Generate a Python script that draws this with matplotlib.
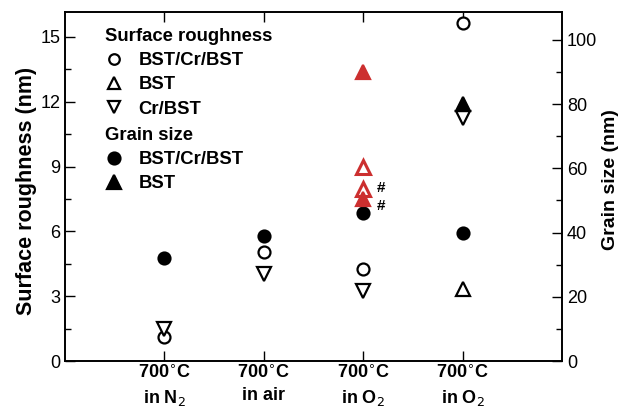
import matplotlib
matplotlib.use("Agg")
import matplotlib.pyplot as plt
from matplotlib.lines import Line2D
from matplotlib.ticker import MultipleLocator

plt.rcParams['font.family'] = ['Liberation Sans', 'DejaVu Sans']

categories = ["700$^{\\circ}$C\nin N$_2$", "700$^{\\circ}$C\nin air",
              "700$^{\\circ}$C\nin O$_2$", "700$^{\\circ}$C\nin O$_2$"]
xpos = [1, 2, 3, 4]

# Surface roughness (nm), left axis
rough_bcb = [1.1, 5.05, 4.26, 15.65]          # BST/Cr/BST, open circle
rough_crbst = [1.5, 4.03, 3.22, 11.25]        # Cr/BST, open down triangle
rough_bst_x = [4]                             # BST, open up triangle (black)
rough_bst = [3.33]
rough_bst_red_x = [3, 3]                      # BST, open up triangle (red)
rough_bst_red = [9.0, 7.95]

# Grain size (nm), right axis
grain_bcb = [32, 39, 46, 40]                  # BST/Cr/BST, filled circle
grain_bst_x = [4]                             # BST, filled up triangle (black)
grain_bst = [80]
grain_bst_red_x = [3, 3]                      # BST, filled up triangle (red)
grain_bst_red = [90, 50.5]

RED = '#cc2f2f'
ms_c = 8.6
ms_t = 10
mew = 1.6
YL, YR = 16.15, 108.7

fig = plt.figure(figsize=(6.22, 4.16), dpi=100)
ax = fig.add_axes([65/622, 55/416, 497/622, 349/416])
ax2 = ax.twinx()

ax.plot(xpos, rough_bcb, 'o', ms=ms_c, mfc='white', mec='black', mew=mew, ls='none')
ax.plot(xpos, rough_crbst, 'v', ms=ms_t, mfc='white', mec='black', mew=mew, ls='none')
ax.plot(rough_bst_x, rough_bst, '^', ms=ms_t, mfc='white', mec='black', mew=mew, ls='none')

ax2.plot(xpos, grain_bcb, 'o', ms=ms_c, mfc='black', mec='black', mew=mew, ls='none')
ax2.plot(grain_bst_x, grain_bst, '^', ms=ms_t, mfc='black', mec='black', mew=mew, ls='none')
ax2.plot(grain_bst_red_x, grain_bst_red, '^', ms=ms_t, mfc=RED, mec=RED, mew=mew, ls='none', zorder=3)
ax2.plot(rough_bst_red_x, [v * YR / YL for v in rough_bst_red], '^', ms=ms_t,
         mfc='white', mec=RED, mew=2.2, ls='none', zorder=2)

ax2.annotate('#', (rough_bst_red_x[1], rough_bst_red[1] * YR / YL), xytext=(10, 1),
             textcoords='offset points', fontsize=11, fontweight='bold', va='center')
ax2.annotate('#', (grain_bst_red_x[1], grain_bst_red[1]), xytext=(10, -5),
             textcoords='offset points', fontsize=11, fontweight='bold', va='center')

ax.set_xlim(0, 5)
ax.set_ylim(0, YL)
ax2.set_ylim(0, YR)

ax.set_xticks(xpos)
ax.set_xticklabels(categories, fontsize=13, fontweight='bold', linespacing=1.38)
ax.yaxis.set_major_locator(MultipleLocator(3))
ax.yaxis.set_minor_locator(MultipleLocator(1.5))
ax2.yaxis.set_major_locator(MultipleLocator(20))
ax2.yaxis.set_minor_locator(MultipleLocator(10))

ax.tick_params(axis='both', which='both', direction='in', top=True, labelsize=13)
ax.tick_params(axis='x', which='minor', top=False, bottom=False)
ax.tick_params(axis='both', which='major', length=7, width=1)
ax.tick_params(axis='y', which='minor', length=4, width=1)
ax2.tick_params(axis='y', which='both', direction='in', labelsize=13)
ax2.tick_params(axis='y', which='major', length=7, width=1)
ax2.tick_params(axis='y', which='minor', length=4, width=1)
ax.tick_params(axis='x', pad=3)

for a in (ax, ax2):
    for s in a.spines.values():
        s.set_linewidth(1.2)

ax.set_ylabel('Surface roughness (nm)', fontsize=15.5, fontweight='bold', labelpad=2)
ax2.set_ylabel('Grain size (nm)', fontsize=14, fontweight='bold', labelpad=3.5)
ax.yaxis.label.set_y(0.486)
ax2.yaxis.label.set_y(0.52)

lk = dict(ls='none', mew=mew, mec='black')
h1 = [Line2D([], [], marker='o', ms=ms_c - 1, mfc='white', **lk),
      Line2D([], [], marker='^', ms=ms_t - 1, mfc='white', **lk),
      Line2D([], [], marker='v', ms=ms_t - 1, mfc='white', **lk)]
h2 = [Line2D([], [], marker='o', ms=ms_c, mfc='black', **lk),
      Line2D([], [], marker='^', ms=ms_t, mfc='black', **lk)]
common = dict(frameon=False, alignment='left', loc='upper left', handlelength=1.0,
              handletextpad=0.8, borderpad=0, borderaxespad=0, labelspacing=0.39,
              prop={'weight': 'bold', 'size': 13.3},
              title_fontproperties={'weight': 'bold', 'size': 13.3})
leg1 = ax2.legend(h1, ['BST/Cr/BST', 'BST', 'Cr/BST'], title='Surface roughness',
                  bbox_to_anchor=(40/497, 1 - 16/349), **common)
ax2.add_artist(leg1)
leg2 = ax2.legend(h2, ['BST/Cr/BST', 'BST'], title='Grain size',
                  bbox_to_anchor=(40/497, 1 - 115/349), **common)

fig.savefig('out.png', dpi=100)
